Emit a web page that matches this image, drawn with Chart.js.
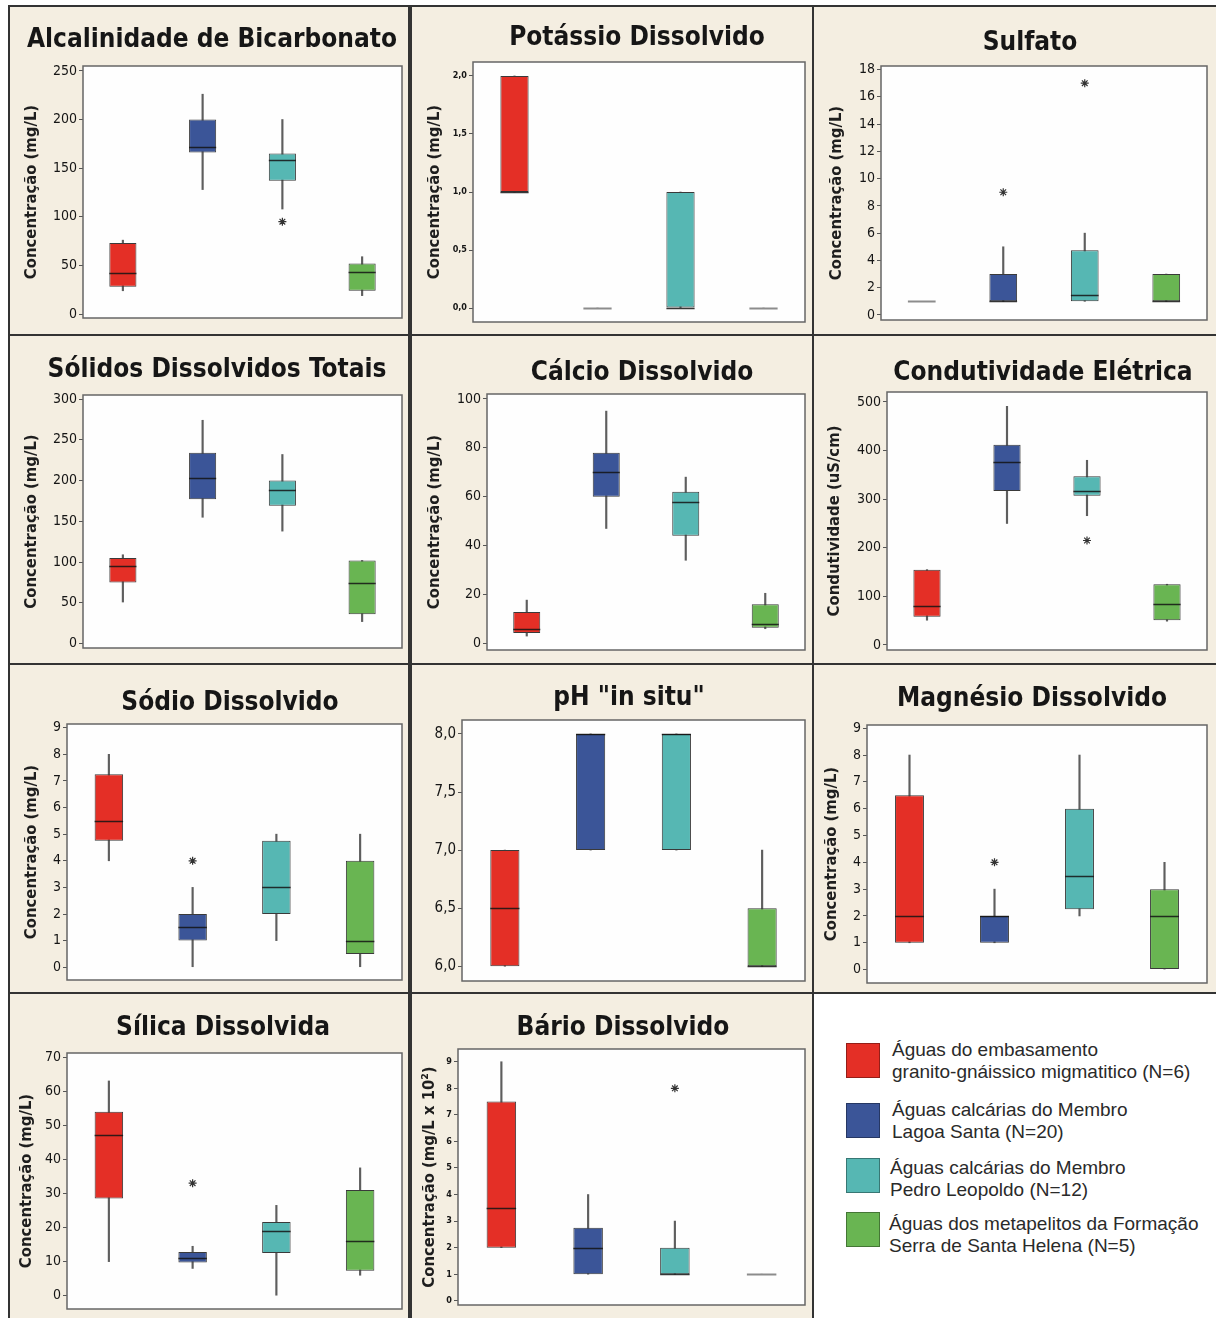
<!DOCTYPE html>
<html lang="pt">
<head>
<meta charset="utf-8">
<title>Boxplots - parâmetros hidroquímicos</title>
<script src="https://cdn.jsdelivr.net/npm/chart.js@4.4.1/dist/chart.umd.min.js"></script>
<style>
  html, body { margin: 0; padding: 0; background: #fff; }
  #sheet { position: absolute; left: 8px; top: 5px; width: 1208px; height: 1313px; background: #333; }
  .cell { position: absolute; background: #f4eee1; }
  .cell canvas { display: block; }
  #legend { background: #fff; font-family: 'Liberation Sans', Arial, sans-serif; font-size: 19px; line-height: 22px; color: #2a2a2a; }
  #legend .sw { position: absolute; left: 32px; width: 34px; height: 35px; box-sizing: border-box; border: 1px solid rgba(0,0,0,0.35); }
  #legend .txt { position: absolute; white-space: nowrap; }
</style>
</head>
<body>
<div id="sheet"></div>
<script>
// groups (same order in every panel)
const groupNames = ['Embasamento', 'Lagoa Santa', 'Pedro Leopoldo', 'Serra de Santa Helena'];
const groupColors = ['#e42f26', '#3b5598', '#56b7b3', '#69b552'];
const legendLines = [
    ['Águas do embasamento', 'granito-gnáissico migmatitico (N=6)'],
    ['Águas calcárias do Membro', 'Lagoa Santa (N=20)'],
    ['Águas calcárias do Membro', 'Pedro Leopoldo (N=12)'],
    ['Águas dos metapelitos da Formação', 'Serra de Santa Helena (N=5)']
];

// each box: [min, Q1, mediana, Q3, max]
const alcalinidade = [[24, 28, 42, 73, 76], [128, 166, 172, 200, 226], [108, 137, 158, 165, 200], [19, 24, 43, 52, 59]];
const alcalinidadeOut = [null, null, 95, null];
const alcalinidadeTicks = [0, 50, 100, 150, 200, 250];

const potassio = [[1, 1, 1, 2, 2], [0, 0, 0, 0, 0], [0, 0, 0, 1, 1], [0, 0, 0, 0, 0]];
const potassioOut = [null, null, null, null];
const potassioTicks = [0, 0.5, 1, 1.5, 2];

const sulfato = [[1, 1, 1, 1, 1], [1, 1, 1, 3, 5], [1, 1, 1.5, 4.75, 6], [1, 1, 1, 3, 3]];
const sulfatoOut = [null, 9, 17, null];
const sulfatoTicks = [0, 2, 4, 6, 8, 10, 12, 14, 16, 18];

const solidos = [[51, 75, 95, 105, 109], [155, 177, 203, 234, 274], [138, 169, 189, 200, 232], [27, 36, 74, 102, 102]];
const solidosOut = [null, null, null, null];
const solidosTicks = [0, 50, 100, 150, 200, 250, 300];

const calcio = [[3, 4.3, 5.7, 12.8, 17.7], [47, 60, 70, 78, 95], [34, 44, 58, 62, 68], [6, 6.4, 8, 16, 20.5]];
const calcioOut = [null, null, null, null];
const calcioTicks = [0, 20, 40, 60, 80, 100];

const condutividade = [[51, 58, 81, 155, 155], [250, 317, 377, 412, 491], [266, 307, 317, 347, 380], [49, 51, 84, 125, 125]];
const condutividadeOut = [null, null, 215, null];
const condutividadeTicks = [0, 100, 200, 300, 400, 500];

const sodio = [[4, 4.75, 5.5, 7.25, 8], [0, 1, 1.5, 2, 3], [1, 2, 3, 4.75, 5], [0, 0.5, 1, 4, 5]];
const sodioOut = [null, 4, null, null];
const sodioTicks = [0, 1, 2, 3, 4, 5, 6, 7, 8, 9];

const ph = [[6, 6, 6.5, 7, 7], [7, 7, 8, 8, 8], [7, 7, 8, 8, 8], [6, 6, 6, 6.5, 7]];
const phOut = [null, null, null, null];
const phTicks = [6, 6.5, 7, 7.5, 8];

const magnesio = [[1, 1, 2, 6.5, 8], [1, 1, 2, 2, 3], [2, 2.25, 3.5, 6, 8], [0, 0, 2, 3, 4]];
const magnesioOut = [null, 4, null, null];
const magnesioTicks = [0, 1, 2, 3, 4, 5, 6, 7, 8, 9];

const silica = [[10, 28.5, 47, 54, 63], [8, 9.75, 11, 12.8, 14.5], [0, 12.5, 19, 21.6, 26.5], [6, 7.3, 16, 31, 37.5]];
const silicaOut = [null, 33, null, null];
const silicaTicks = [0, 10, 20, 30, 40, 50, 60, 70];

const bario = [[2, 2, 3.5, 7.5, 9], [1, 1, 2, 2.75, 4], [1, 1, 1, 2, 3], [1, 1, 1, 1, 1]];
const barioOut = [null, null, 8, null];
const barioTicks = [0, 1, 2, 3, 4, 5, 6, 7, 8, 9];

// grid of cells (absolute page pixels)
const colX = [10, 412, 814], colW = [398, 400, 402];
const rowY = [7, 336, 665, 994], rowH = [327, 327, 327, 324];

const FONT = "'DejaVu Sans Condensed', 'DejaVu Sans', sans-serif";
const concLabel = 'Concentração (mg/L)';

// L,T,R,B = plot frame; tx,ty = title centre/baseline; lx = y label centre
const panels = [
    { title: 'Alcalinidade de Bicarbonato', stats: alcalinidade, out: alcalinidadeOut, ticks: alcalinidadeTicks, min: -4, max: 255, ylabel: concLabel,
      col: 0, row: 0, L: 83, T: 66, R: 402, B: 318, tx: 212, ty: 47, lx: 32, tick: 14 },
    { title: 'Potássio Dissolvido', stats: potassio, out: potassioOut, ticks: potassioTicks, min: -0.12, max: 2.12, ylabel: concLabel, comma: true,
      col: 1, row: 0, L: 473, T: 62, R: 805, B: 322, tx: 637, ty: 45, lx: 435, tick: 9, tickBold: true },
    { title: 'Sulfato', stats: sulfato, out: sulfatoOut, ticks: sulfatoTicks, min: -0.37, max: 18.26, ylabel: concLabel,
      col: 2, row: 0, L: 881, T: 66, R: 1207, B: 320, tx: 1030, ty: 50, lx: 837, tick: 14 },
    { title: 'Sólidos Dissolvidos Totais', stats: solidos, out: solidosOut, ticks: solidosTicks, min: -5.4, max: 305, ylabel: concLabel,
      col: 0, row: 1, L: 83, T: 395, R: 402, B: 648, tx: 217, ty: 377, lx: 32, tick: 14 },
    { title: 'Cálcio Dissolvido', stats: calcio, out: calcioOut, ticks: calcioTicks, min: -2.7, max: 102, ylabel: concLabel,
      col: 1, row: 1, L: 487, T: 394, R: 805, B: 650, tx: 642, ty: 380, lx: 435, tick: 14 },
    { title: 'Condutividade Elétrica', stats: condutividade, out: condutividadeOut, ticks: condutividadeTicks, min: -10.3, max: 520.5, ylabel: 'Condutividade (uS/cm)',
      col: 2, row: 1, L: 887, T: 392, R: 1207, B: 650, tx: 1043, ty: 380, lx: 835, tick: 14 },
    { title: 'Sódio Dissolvido', stats: sodio, out: sodioOut, ticks: sodioTicks, min: -0.48, max: 9.14, ylabel: concLabel,
      col: 0, row: 2, L: 67, T: 724, R: 402, B: 980, tx: 230, ty: 710, lx: 32, tick: 14 },
    { title: 'pH "in situ"', stats: ph, out: phOut, ticks: phTicks, min: 5.873, max: 8.12, ylabel: '', comma: true,
      col: 1, row: 2, L: 462, T: 720, R: 805, B: 981, tx: 629, ty: 705, lx: 0, tick: 15 },
    { title: 'Magnésio Dissolvido', stats: magnesio, out: magnesioOut, ticks: magnesioTicks, min: -0.5, max: 9.12, ylabel: concLabel,
      col: 2, row: 2, L: 867, T: 725, R: 1207, B: 983, tx: 1032, ty: 706, lx: 832, tick: 14 },
    { title: 'Sílica Dissolvida', stats: silica, out: silicaOut, ticks: silicaTicks, min: -3.9, max: 71.2, ylabel: concLabel,
      col: 0, row: 3, L: 67, T: 1053, R: 402, B: 1309, tx: 223, ty: 1035, lx: 27, tick: 14 },
    { title: 'Bário Dissolvido', stats: bario, out: barioOut, ticks: barioTicks, min: -0.16, max: 9.48, ylabel: 'Concentração (mg/L x 10²)',
      col: 1, row: 3, L: 458, T: 1049, R: 805, B: 1305, tx: 623, ty: 1035, lx: 430, tick: 9, tickBold: true }
];

// white plot area + grey frame
const framePlugin = {
    id: 'frame',
    beforeDraw(chart) {
        const a = chart.chartArea, ctx = chart.ctx;
        ctx.save();
        ctx.fillStyle = '#fefefe';
        ctx.fillRect(a.left, a.top, a.right - a.left, a.bottom - a.top);
        ctx.restore();
    },
    beforeDatasetsDraw(chart) {
        const a = chart.chartArea, ctx = chart.ctx;
        ctx.save();
        ctx.strokeStyle = '#666';
        ctx.lineWidth = 1.5;
        ctx.strokeRect(a.left, a.top, a.right - a.left, a.bottom - a.top);
        ctx.restore();
    }
};

// median lines (grey line when the box has no height)
const medianPlugin = {
    id: 'medians',
    afterDatasetsDraw(chart, args, opts) {
        const ctx = chart.ctx, y = chart.scales.y;
        const meta = chart.getDatasetMeta(0);
        ctx.save();
        meta.data.forEach((bar, i) => {
            const s = opts.stats[i];
            const py = Math.round(y.getPixelForValue(s[2])) + 0.5;
            const half = bar.width / 2;
            const flat = s[1] === s[3];
            ctx.strokeStyle = flat ? '#8c8c8c' : 'rgba(20,20,20,0.85)';
            ctx.lineWidth = flat ? 2 : 1.5;
            ctx.beginPath();
            ctx.moveTo(bar.x - half, py);
            ctx.lineTo(bar.x + half, py);
            ctx.stroke();
        });
        ctx.restore();
    }
};

const titlePlugin = {
    id: 'panelTitle',
    afterDraw(chart, args, opts) {
        const ctx = chart.ctx;
        ctx.save();
        ctx.font = 'bold 26px ' + FONT;
        ctx.fillStyle = '#161616';
        ctx.textAlign = 'center';
        ctx.textBaseline = 'alphabetic';
        ctx.fillText(opts.text, opts.x, opts.y);
        ctx.restore();
    }
};

const sheet = document.getElementById('sheet');

function addCell(col, row) {
    const div = document.createElement('div');
    div.className = 'cell';
    div.style.left = (colX[col] - 8) + 'px';
    div.style.top = (rowY[row] - 5) + 'px';
    div.style.width = colW[col] + 'px';
    div.style.height = rowH[row] + 'px';
    sheet.appendChild(div);
    return div;
}

panels.forEach(p => {
    const div = addCell(p.col, p.row);
    const left = colX[p.col], top = rowY[p.row];
    const canvas = document.createElement('canvas');
    canvas.width = colW[p.col];
    canvas.height = rowH[p.row];
    div.appendChild(canvas);

    const yTitleSize = 16.5;
    new Chart(canvas, {
        type: 'bar',
        data: {
            labels: groupNames,
            datasets: [
                {
                    label: 'caixa',
                    data: p.stats.map(s => [s[1], s[3]]),
                    backgroundColor: groupColors,
                    borderColor: '#3a3a3a',
                    borderWidth: 1,
                    borderSkipped: false,
                    barPercentage: 0.34,
                    categoryPercentage: 1,
                    grouped: false,
                    order: 1
                },
                {
                    label: 'bigode',
                    data: p.stats.map(s => [s[0], s[4]]),
                    backgroundColor: '#5e5e5e',
                    barThickness: 1.5,
                    grouped: false,
                    order: 2
                },
                {
                    type: 'line',
                    label: 'outlier',
                    data: p.out,
                    showLine: false,
                    pointStyle: 'star',
                    pointRadius: 4,
                    borderColor: '#333',
                    borderWidth: 1.2,
                    order: 0
                }
            ]
        },
        options: {
            responsive: false,
            animation: false,
            events: [],
            layout: {
                padding: { left: 0, top: p.T - top, right: left + colW[p.col] - p.R, bottom: top + rowH[p.row] - p.B }
            },
            plugins: {
                legend: { display: false },
                tooltip: { enabled: false },
                medians: { stats: p.stats },
                panelTitle: { text: p.title, x: p.tx - left, y: p.ty - top }
            },
            scales: {
                x: { display: false, offset: true },
                y: {
                    min: p.min,
                    max: p.max,
                    afterBuildTicks: scale => { scale.ticks = p.ticks.map(v => ({ value: v })); },
                    afterFit: scale => {
                        scale.width = p.L - left;
                        scale.paddingTop = 0;
                        scale.paddingBottom = 0;
                    },
                    grid: { drawOnChartArea: false, drawTicks: true, tickLength: 4, color: '#555', tickWidth: 1 },
                    border: { display: false },
                    ticks: {
                        padding: 2,
                        color: '#151515',
                        font: { family: FONT, size: p.tick, weight: p.tickBold ? 'bold' : 'normal' },
                        callback: v => p.comma ? v.toFixed(1).replace('.', ',') : v
                    },
                    title: {
                        display: !!p.ylabel,
                        text: p.ylabel,
                        color: '#1e1e1e',
                        font: { family: FONT, size: yTitleSize, weight: 'bold' },
                        padding: { top: p.lx - left - yTitleSize * 0.6, bottom: 0 }
                    }
                }
            }
        },
        plugins: [framePlugin, medianPlugin, titlePlugin]
    });
});

// legend cell
const legendCell = addCell(2, 3);
legendCell.id = 'legend';
const legendTextTops = [45, 105, 163, 219];
const legendSwatchTops = [49, 109, 164, 218];
const legendTextX = [78, 78, 76, 75];
legendLines.forEach((lines, i) => {
    const sw = document.createElement('div');
    sw.className = 'sw';
    sw.style.top = legendSwatchTops[i] + 'px';
    sw.style.background = groupColors[i];
    legendCell.appendChild(sw);
    const txt = document.createElement('div');
    txt.className = 'txt';
    txt.style.left = legendTextX[i] + 'px';
    txt.style.top = legendTextTops[i] + 'px';
    txt.innerHTML = lines.join('<br>');
    legendCell.appendChild(txt);
});
</script>
</body>
</html>
